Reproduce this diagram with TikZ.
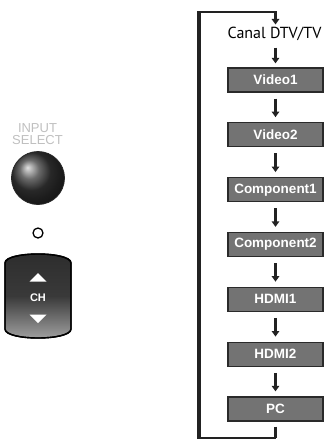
\documentclass[tikz,border=0pt]{standalone}
\usepackage{fontspec}
\setmainfont{Liberation Sans}
\newfontfamily\canalfont{PT Sans}
\usetikzlibrary{arrows.meta,shadings}
\definecolor{boxfill}{HTML}{737373}
\definecolor{boxline}{HTML}{2A2A2A}
\definecolor{arrowc}{HTML}{222222}
\tikzset{
  srcbox/.style={draw=boxline, line width=1.3pt, fill=boxfill, minimum width=95pt, minimum height=24pt, inner sep=0pt,
    text=white, font=\fontsize{13.5}{14}\selectfont\bfseries},
  flowarrow/.style={draw=arrowc, line width=3pt, -{Triangle[width=7.5pt,length=5.5pt]}},
  loopline/.style={draw=arrowc, line width=3.2pt},
}
\begin{document}
\begin{tikzpicture}[x=1pt,y=-1pt]
\useasboundingbox (0,0) rectangle (327,440);
% flow nodes
\node[font=\canalfont\fontsize{16}{16}\selectfont, inner sep=0pt] (canal) at (274.5,33.5) {Canal DTV/TV};
\node[srcbox] (v1) at (275.5,80) {Video1};
\node[srcbox] (v2) at (275.5,134.8) {Video2};
\node[srcbox] (c1) at (275.5,189.7) {Component1};
\node[srcbox] (c2) at (275.5,244.5) {Component2};
\node[srcbox] (h1) at (275.5,299.3) {HDMI1};
\node[srcbox] (h2) at (275.5,354.2) {HDMI2};
\node[srcbox] (pc) at (275.5,409) {PC};
% arrows
\draw[flowarrow] ([yshift=-7pt]canal.south -| v1.north) -- ([yshift=4pt]v1.north);
\foreach \a/\b in {v1/v2,v2/c1,c1/c2,c2/h1,h1/h2,h2/pc}{
  \draw[flowarrow] ([yshift=-6pt]\a.south) -- ([yshift=5pt]\b.north);
}
% loop
\coordinate (lb) at (275.5,438);
\coordinate (ll) at (199,438);
\coordinate (lt) at (199,12);
\coordinate (rt) at (275.5,12);
\draw[loopline] ([yshift=-5pt]pc.south) -- (lb);
\draw[draw=arrowc, line width=1.8pt] (lb) -- (ll);
\draw[loopline] ([yshift=-0.9pt]ll) -- ([yshift=1pt]lt);
\draw[draw=arrowc, line width=2.2pt] (lt) -- (rt);
\draw[flowarrow] ([yshift=1pt]rt) -- ([yshift=2pt]canal.north -| rt);
% left controls
\node[text=gray!50, font=\fontsize{13}{12}\selectfont, align=center, inner sep=0pt] (insel) at (37.5,134) {INPUT\\SELECT};
\shade[ball color=gray!45!black] (38,178) circle[radius=26.5];
\draw[black!85, line width=0.8pt] (38,178) circle[radius=26.5];
\draw[black, line width=1.3pt] (38,233) circle[radius=5];
\shade[top color=gray!35!black, bottom color=gray!70, middle color=gray!45!black, draw=black, line width=1.4pt]
  (5,263) .. controls (5,251) and (71,251) .. (71,263) -- (71,329) .. controls (71,341) and (5,341) .. (5,329) -- cycle;
\draw[black, line width=1.4pt]
  (5,263) .. controls (5,251) and (71,251) .. (71,263) -- (71,329) .. controls (71,341) and (5,341) .. (5,329) -- cycle;
\fill[white] (29.5,281.5) -- (46.5,281.5) -- (38,273) -- cycle;
\node[text=white, font=\fontsize{11}{11}\selectfont\bfseries, inner sep=0pt] (ch) at (38,297.5) {CH};
\fill[white] (29.5,314.5) -- (46.5,314.5) -- (38,323) -- cycle;
\end{tikzpicture}
\end{document}
